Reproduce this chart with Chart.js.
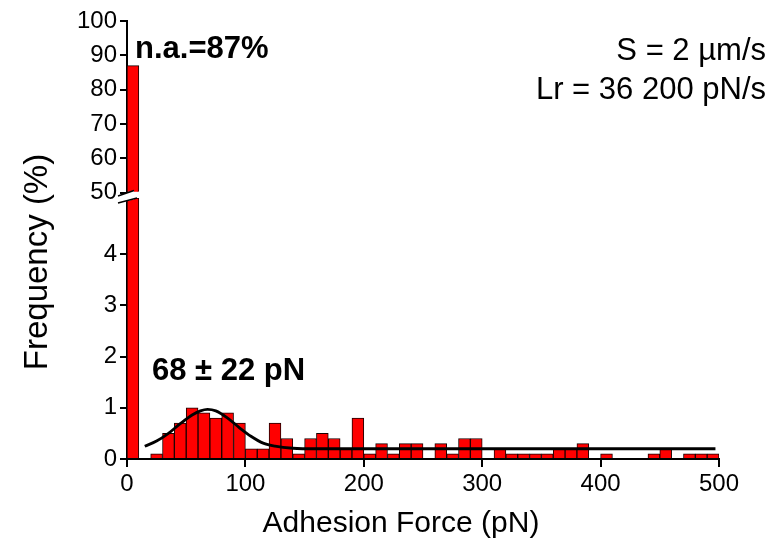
<!DOCTYPE html>
<html>
<head>
<meta charset="utf-8">
<script src="https://cdn.jsdelivr.net/npm/chart.js@4.4.0/dist/chart.umd.min.js"></script>
<style>
  html, body { margin: 0; padding: 0; background: #fff; }
  #wrap { width: 782px; height: 544px; }
</style>
</head>
<body>
<div id="wrap"><canvas id="myChart"></canvas></div>
<script>
// histogram bins (pN, left edge, 10 pN wide) and frequency (%)
const binStart = [0, 10, 20, 30, 40, 50, 60, 70, 80, 90,
  100, 110, 120, 130, 140, 150, 160, 170, 180, 190,
  200, 210, 220, 230, 240, 250, 260, 270, 280, 290,
  300, 310, 320, 330, 340, 350, 360, 370, 380, 390,
  400, 410, 420, 430, 440, 450, 460, 470, 480, 490];
const frequency = [87, 0, 0.1, 0.5, 0.7, 1.0, 0.9, 0.8, 0.9, 0.7,
  0.2, 0.2, 0.7, 0.4, 0.1, 0.4, 0.5, 0.4, 0.2, 0.8,
  0.1, 0.3, 0.1, 0.3, 0.3, 0, 0.3, 0.1, 0.4, 0.4,
  0, 0.2, 0.1, 0.1, 0.1, 0.1, 0.2, 0.2, 0.3, 0,
  0.1, 0, 0, 0, 0.1, 0.2, 0, 0.1, 0.1, 0.1];

// gaussian fit curve
const fitForce = [15, 25, 35, 45, 55, 62, 68, 75, 85, 95, 105, 115, 125, 140, 160, 497];
const fitFreq = [0.25, 0.35, 0.50, 0.69, 0.86, 0.94, 0.97, 0.94, 0.80, 0.61, 0.44, 0.31, 0.25, 0.21, 0.20, 0.20];

const xTickValues = [0, 100, 200, 300, 400, 500];
const lowTickValues = [0, 1, 2, 3, 4];
const highTickValues = [50, 60, 70, 80, 90, 100];
const lowMax = 5.1;
const highMin = 48.5;
const breakValue = 50;

const FONT = "'Liberation Sans', Arial, Helvetica, sans-serif";
Chart.defaults.font.family = FONT;
Chart.defaults.color = '#000';

const lowBars = binStart.map((s, i) => ({ x: s + 5, y: frequency[i] ? Math.min(frequency[i], lowMax) : null }));
const highBars = binStart.map((s, i) => ({ x: s + 5, y: frequency[i] > lowMax ? frequency[i] : null }));
const fitLine = fitForce.map((f, i) => ({ x: f, y: fitFreq[i] }));

const barStyle = {
  backgroundColor: '#ff0000',
  borderColor: '#1a0000',
  borderWidth: 1,
  barPercentage: 1,
  categoryPercentage: 1,
  grouped: false
};

const xGrid = { display: true, drawOnChartArea: false, offset: false, color: '#000', lineWidth: 2, tickLength: 8 };
const yGrid = { display: true, drawOnChartArea: false, color: '#000', lineWidth: 2, tickLength: 7 };
const axisBorder = { display: true, color: '#000', width: 2 };
const tickFont = { size: 24 };

const labelPlugin = {
  id: 'labelPlugin',
  afterDraw(chart) {
    const ctx = chart.ctx;
    const L = chart.chartArea.left;
    const yb = chart.scales.y.top;
    ctx.save();
    // axis break marks
    ctx.fillStyle = '#fff';
    ctx.beginPath();
    ctx.moveTo(L - 9, yb - 2);
    ctx.lineTo(L + 7, yb - 7.5);
    ctx.lineTo(L + 7, yb + 1.5);
    ctx.lineTo(L - 9, yb + 5);
    ctx.closePath();
    ctx.fill();
    ctx.strokeStyle = '#000';
    ctx.lineWidth = 1.5;
    ctx.beginPath();
    ctx.moveTo(L - 9, yb - 2);
    ctx.lineTo(L + 7, yb - 7.5);
    ctx.moveTo(L - 9, yb + 5);
    ctx.lineTo(L + 10, yb);
    ctx.stroke();

    ctx.fillStyle = '#000';
    ctx.textBaseline = 'alphabetic';
    ctx.font = 'bold 31px ' + FONT;
    ctx.textAlign = 'left';
    ctx.fillText('n.a.=87%', 135, 58);
    ctx.fillText('68 ± 22 pN', 152, 380);

    ctx.font = '31px ' + FONT;
    ctx.textAlign = 'right';
    ctx.fillText('S = 2 µm/s', 766, 60);
    ctx.fillText('Lr = 36 200 pN/s', 766, 99);

    ctx.font = '30px ' + FONT;
    ctx.textAlign = 'center';
    ctx.fillText('Adhesion Force (pN)', 401, 532);

    ctx.translate(38, 262);
    ctx.rotate(-Math.PI / 2);
    ctx.textBaseline = 'middle';
    ctx.font = '33px ' + FONT;
    ctx.fillText('Frequency (%)', 0, 0);
    ctx.restore();
  }
};

const config = {
  type: 'bar',
  data: {
    datasets: [
      {
        type: 'line',
        data: fitLine,
        yAxisID: 'y',
        borderColor: '#000',
        borderWidth: 2.8,
        pointRadius: 0,
        fill: false,
        cubicInterpolationMode: 'monotone',
        order: 0
      },
      Object.assign({ data: lowBars, yAxisID: 'y', order: 1 }, barStyle),
      Object.assign({ data: highBars, yAxisID: 'y2', base: breakValue, order: 2 }, barStyle)
    ]
  },
  options: {
    responsive: true,
    maintainAspectRatio: false,
    animation: false,
    layout: { padding: { top: 21, right: 63, left: 0, bottom: 0 } },
    plugins: {
      legend: { display: false },
      tooltip: { enabled: false }
    },
    scales: {
      x: {
        type: 'linear',
        min: 0,
        max: 500,
        offset: false,
        grid: xGrid,
        border: axisBorder,
        ticks: { font: tickFont, color: '#000', maxRotation: 0, autoSkip: false, padding: 3 },
        afterBuildTicks: s => { s.ticks = xTickValues.map(v => ({ value: v })); },
        afterFit: s => { s.height = 85; }
      },
      y: {
        type: 'linear',
        position: 'left',
        stack: 'freq',
        stackWeight: 261,
        min: 0,
        max: lowMax,
        grid: yGrid,
        border: axisBorder,
        ticks: { font: tickFont, color: '#000', autoSkip: false, padding: 3 },
        afterBuildTicks: s => { s.ticks = lowTickValues.map(v => ({ value: v })); },
        afterFit: s => { s.width = 127; }
      },
      y2: {
        type: 'linear',
        position: 'left',
        stack: 'freq',
        stackWeight: 177,
        min: highMin,
        max: 100,
        grid: yGrid,
        border: axisBorder,
        ticks: { font: tickFont, color: '#000', autoSkip: false, padding: 3 },
        afterBuildTicks: s => { s.ticks = highTickValues.map(v => ({ value: v })); },
        afterFit: s => { s.width = 127; }
      }
    }
  },
  plugins: [labelPlugin]
};

const myChart = new Chart(document.getElementById('myChart'), config);
</script>
</body>
</html>
